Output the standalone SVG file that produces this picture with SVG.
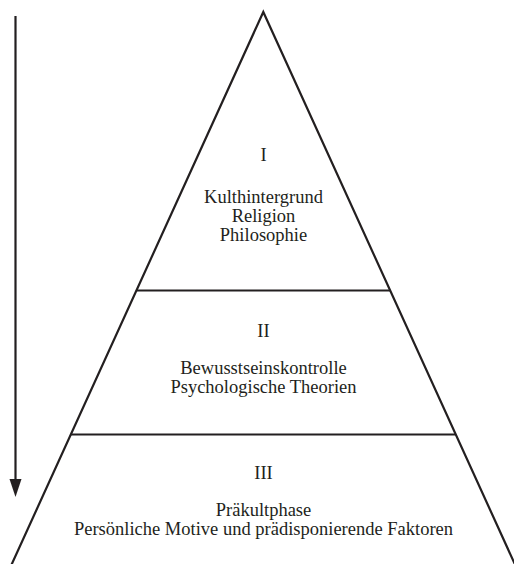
<svg xmlns="http://www.w3.org/2000/svg" width="514" height="564" viewBox="0 0 514 564">
<style>
.l{stroke:#231f20;stroke-width:2.2;fill:none}
.t{font-family:"Liberation Serif","Times New Roman",serif;font-size:18.5px;fill:#231f20;text-anchor:middle}
</style>
<rect width="514" height="564" fill="#fff"/>
<g id="connectors">
<line class="l" x1="15.5" y1="16" x2="15.5" y2="482"/>
<polygon points="9.5,479 21.5,479 15.5,497" fill="#231f20"/>
</g>
<g id="pyramid">
<polyline class="l" points="10,568 263.3,12 516.6,568"/>
<line class="l" x1="136.5" y1="290.5" x2="390" y2="290.5"/>
<line class="l" x1="71" y1="434.5" x2="455.5" y2="434.5"/>
</g>
<g id="level1">
<text class="t" x="263.5" y="161">I</text>
<text class="t" x="263.5" y="203">Kulthintergrund</text>
<text class="t" x="263.5" y="222">Religion</text>
<text class="t" x="263.5" y="241">Philosophie</text>
</g>
<g id="level2">
<text class="t" x="263.5" y="337">II</text>
<text class="t" x="263.5" y="374">Bewusstseinskontrolle</text>
<text class="t" x="263.5" y="393">Psychologische Theorien</text>
</g>
<g id="level3">
<text class="t" x="263.5" y="479">III</text>
<text class="t" x="263.5" y="516">Präkultphase</text>
<text class="t" x="263.5" y="535">Persönliche Motive und prädisponierende Faktoren</text>
</g>
</svg>
